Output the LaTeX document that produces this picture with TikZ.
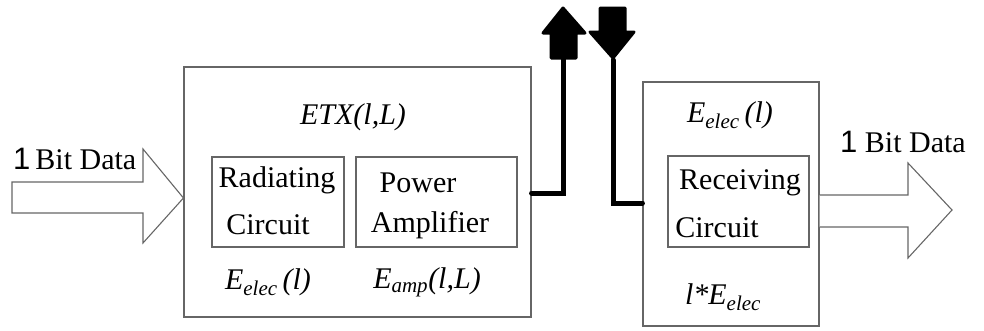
\documentclass[tikz,border=0pt]{standalone}
\usepackage{fontspec}
\setmainfont{Liberation Serif}
\newfontfamily\onefont{Liberation Sans}
\begin{document}
\begin{tikzpicture}[x=1pt,y=-1pt,
  box/.style={draw=black!60, line width=1.1pt, inner sep=0pt, fill=white},
  lbl/.style={inner sep=0pt, font=\fontsize{30}{32}\selectfont},
  ilbl/.style={inner sep=0pt, font=\fontsize{30}{32}\selectfont\itshape},
  wire/.style={line width=5pt, black, line cap=round},
  blockarrow/.style={draw=black!60, line width=1.1pt, fill=white, line join=miter},
  solidarrow/.style={draw=black, fill=black, line width=3pt, line join=round}]
\useasboundingbox (0,0) rectangle (984,330);
% boxes
\node[box, minimum width=347pt, minimum height=250pt] (etx) at (357.5,192) {};
\node[box, minimum width=132pt, minimum height=90pt] (rad) at (278,202) {};
\node[box, minimum width=161pt, minimum height=90pt] (pa) at (436.5,202) {};
\node[box, minimum width=176pt, minimum height=244pt] (rx) at (731,204) {};
\node[box, minimum width=141pt, minimum height=91pt] (rc) at (738.5,201.5) {};
% texts
\node[ilbl] (etxl) at (353,117) {ETX(l,L)};
\node[lbl] (rad1) at (277,180) {Radiating};
\node[lbl] (rad2) at (268,225) {Circuit};
\node[lbl] (pa1) at (418,183) {Power};
\node[lbl] (pa2) at (430,225) {Amplifier};
\node[ilbl] (ee1) at (268,282) {E\textsubscript{elec}\,(l)};
\node[ilbl] (ea) at (427,282) {E\textsubscript{amp}(l,L)};
\node[ilbl] (ee2) at (730,115) {E\textsubscript{elec}\,(l)};
\node[lbl] (rc1) at (740,183) {Receiving};
\node[lbl] (rc2) at (717,228) {Circuit};
\node[ilbl] (le) at (723,297) {l*E\textsubscript{elec}};
\node[lbl, anchor=base west] (inl) at (13,169) {{\onefont\fontsize{31}{31}\selectfont 1}\,Bit Data};
\node[lbl, anchor=base west] (outl) at (840,152) {{\onefont\fontsize{31}{31}\selectfont 1} Bit Data};
% input block arrow
\draw[blockarrow] (12,182) -- (143,182) -- (143,149) -- (etx.west |- 0,198) -- (143,243) -- (143,213) -- (12,213) -- cycle;
% output block arrow
\draw[blockarrow] (rx.east |- 0,195) -- (908,195) -- (908,163) -- (952,210) -- (908,258) -- (908,227) -- (rx.east |- 0,227);
% wires
\coordinate (txout) at (etx.east |- 0,193);
\coordinate (upbase) at (563,58);
\coordinate (rxin) at (rx.west |- 0,203);
\coordinate (downtip) at (613,60);
\draw[wire] (txout) -| (upbase);
\draw[wire] (downtip) |- (rxin);
% solid arrows
\draw[solidarrow] (551,58) -- (551,33) -- (543,33) -- (563,8) -- (585,33) -- (576,33) -- (576,58) -- cycle;
\draw[solidarrow] (600,8) -- (625,8) -- (625,32) -- (634,32) -- (613,58) -- (590,32) -- (600,32) -- cycle;
\end{tikzpicture}
\end{document}
